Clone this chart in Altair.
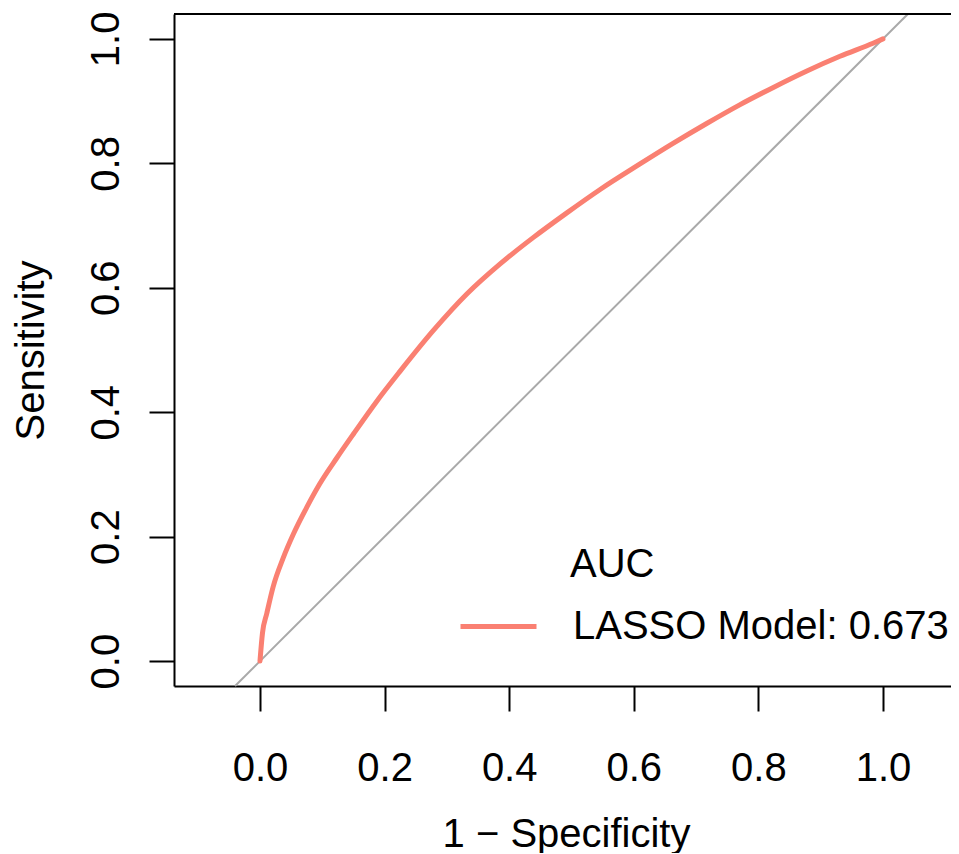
import altair as alt
import pandas as pd

# ROC curve (1 - specificity, sensitivity)
fpr = [0.0, 0.004, 0.011, 0.021, 0.037, 0.054, 0.075, 0.096, 0.123, 0.150,
       0.187, 0.225, 0.278, 0.332, 0.385, 0.439, 0.492, 0.546, 0.610, 0.663,
       0.717, 0.770, 0.824, 0.877, 0.931, 0.984, 1.0]
tpr = [0.0, 0.045, 0.077, 0.119, 0.165, 0.205, 0.247, 0.285, 0.326, 0.365,
       0.417, 0.466, 0.531, 0.590, 0.638, 0.681, 0.720, 0.758, 0.799, 0.832,
       0.864, 0.894, 0.922, 0.948, 0.972, 0.993, 1.0]
model_label = "LASSO Model: 0.673"
legend_title = "AUC"
x_ticks = [0.0, 0.2, 0.4, 0.6, 0.8, 1.0]
y_ticks = [0.0, 0.2, 0.4, 0.6, 0.8, 1.0]
diag = [-0.04, 1.04]

FONT = "Liberation Sans"
W, H = 777, 672
x_dom = [-0.138, -0.138 + W / 623.0]
y_dom = [-0.04, 1.04]

roc_df = pd.DataFrame({"fpr": fpr, "tpr": tpr, "model": [model_label] * len(fpr)})
diag_df = pd.DataFrame({"fpr": diag, "tpr": diag})

xscale = alt.Scale(domain=x_dom, nice=False, zero=False)
yscale = alt.Scale(domain=y_dom, nice=False, zero=False)

x_axis = alt.Axis(
    values=x_ticks, format=".1f", title="1 − Specificity", grid=False,
    domain=True, domainColor="black", domainWidth=2,
    ticks=True, tickSize=25, tickWidth=2, tickColor="black",
    labelFontSize=40, labelFont=FONT, labelColor="black",
    labelBaseline="alphabetic", labelPadding=69, labelFlush=False,
    labelOverlap=False,
    titleFontSize=40, titleFont=FONT, titleFontWeight="normal", titleColor="black",
    titleX=392, titleY=160, titleBaseline="alphabetic", titleAlign="center",
)
y_axis = alt.Axis(
    values=y_ticks, format=".1f", title="Sensitivity", grid=False,
    domain=True, domainColor="black", domainWidth=2,
    ticks=True, tickSize=25, tickWidth=2, tickColor="black",
    labelFontSize=40, labelFont=FONT, labelColor="black",
    labelAngle=270, labelAlign="center", labelBaseline="alphabetic",
    labelPadding=31, labelFlush=False, labelOverlap=False,
    titleFontSize=40, titleFont=FONT, titleFontWeight="normal", titleColor="black",
    titleAngle=270, titleX=-131, titleY=H / 2, titleBaseline="alphabetic",
    titleAlign="center",
)

diag_line = alt.Chart(diag_df).mark_line(color="#A9A9A9", strokeWidth=2).encode(
    x=alt.X("fpr:Q", scale=xscale, axis=x_axis),
    y=alt.Y("tpr:Q", scale=yscale, axis=y_axis),
)

roc_line = alt.Chart(roc_df).mark_line(
    strokeWidth=5, strokeCap="round", interpolate="monotone"
).encode(
    x=alt.X("fpr:Q", scale=xscale, axis=x_axis),
    y=alt.Y("tpr:Q", scale=yscale, axis=y_axis),
    color=alt.Color(
        "model:N",
        scale=alt.Scale(range=["#FA8072"]),
        legend=alt.Legend(
            title=None, orient="none", legendX=284, legendY=572,
            symbolType="stroke", symbolSize=5776, symbolStrokeWidth=5,
            labelFontSize=40, labelFont=FONT, labelColor="black",
            labelOffset=34, labelLimit=800, padding=0,
        ),
    ),
    order=alt.Order("fpr:Q"),
)

top_border = alt.Chart().mark_rule(color="black", strokeWidth=2).encode(
    x=alt.value(0), x2=alt.value(W), y=alt.value(0)
)

auc_title = alt.Chart().mark_text(
    align="left", baseline="alphabetic", fontSize=40, font=FONT, color="black"
).encode(x=alt.value(396), y=alt.value(563), text=alt.value(legend_title))

chart = alt.layer(diag_line, roc_line, top_border, auc_title).properties(
    width=W, height=H,
    autosize=alt.AutoSizeParams(type="none"),
    padding={"left": 166, "top": 6, "right": 0, "bottom": 167},
    background="white",
).configure_view(stroke=None)

chart.save("out.html", embed_options={"renderer": "svg", "actions": False})
